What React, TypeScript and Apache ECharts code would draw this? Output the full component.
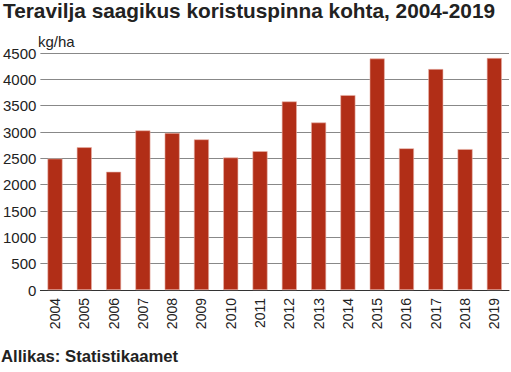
import React, { useEffect, useRef } from "react";
import * as echarts from "echarts";

const years = ["2004","2005","2006","2007","2008","2009","2010","2011","2012","2013","2014","2015","2016","2017","2018","2019"];
const yields = [2495, 2710, 2245, 3030, 2980, 2860, 2515, 2635, 3580, 3180, 3700, 4395, 2690, 4195, 2675, 4405];
const titleText = "Teravilja saagikus koristuspinna kohta, 2004-2019";
const unitText = "kg/ha";
const sourceText = "Allikas: Statistikaamet";

export default function App() {
  const ref = useRef<HTMLDivElement>(null);
  useEffect(() => {
    if (!ref.current) return;
    const chart = echarts.init(ref.current, null, { renderer: "svg" });
    const font = "Liberation Sans, Arial, sans-serif";
    chart.setOption({
      animation: false,
      textStyle: { fontFamily: font },
      title: {
        text: titleText,
        left: 1,
        top: 0,
        padding: [0, 2],
        textStyle: { fontFamily: font, fontSize: 20.8, fontWeight: "bold", color: "#222" },
      },
      graphic: [
        { type: "text", left: 38, top: 34, style: { text: unitText, font: `15px ${font}`, fill: "#222" } },
        { type: "text", left: 1, top: 348, style: { text: sourceText, font: `bold 16.7px ${font}`, fill: "#222" } },
      ],
      grid: { left: 37, right: 2, top: 53, bottom: 82, containLabel: false },
      xAxis: {
        type: "category",
        data: years,
        axisLine: { lineStyle: { color: "#333", width: 1 } },
        axisTick: { show: false },
        axisLabel: { rotate: 90, fontSize: 14, color: "#222", margin: 8, fontFamily: font },
      },
      yAxis: {
        type: "value",
        min: 0,
        max: 4500,
        interval: 500,
        axisLine: { show: false },
        axisTick: { show: false },
        splitLine: { lineStyle: { color: "#888", width: 1 } },
        axisLabel: { fontSize: 15, color: "#222", margin: 4, fontFamily: font, formatter: (v: number) => String(v) },
      },
      series: [
        {
          type: "bar",
          data: yields,
          barWidth: 15,
          itemStyle: { color: "#b12e17", borderColor: "#e9b3aa", borderWidth: 0.6 },
        },
      ],
    });
    return () => chart.dispose();
  }, []);
  return <div ref={ref} style={{ width: 511, height: 372, position: "absolute", left: 0, top: 0 }} />;
}
